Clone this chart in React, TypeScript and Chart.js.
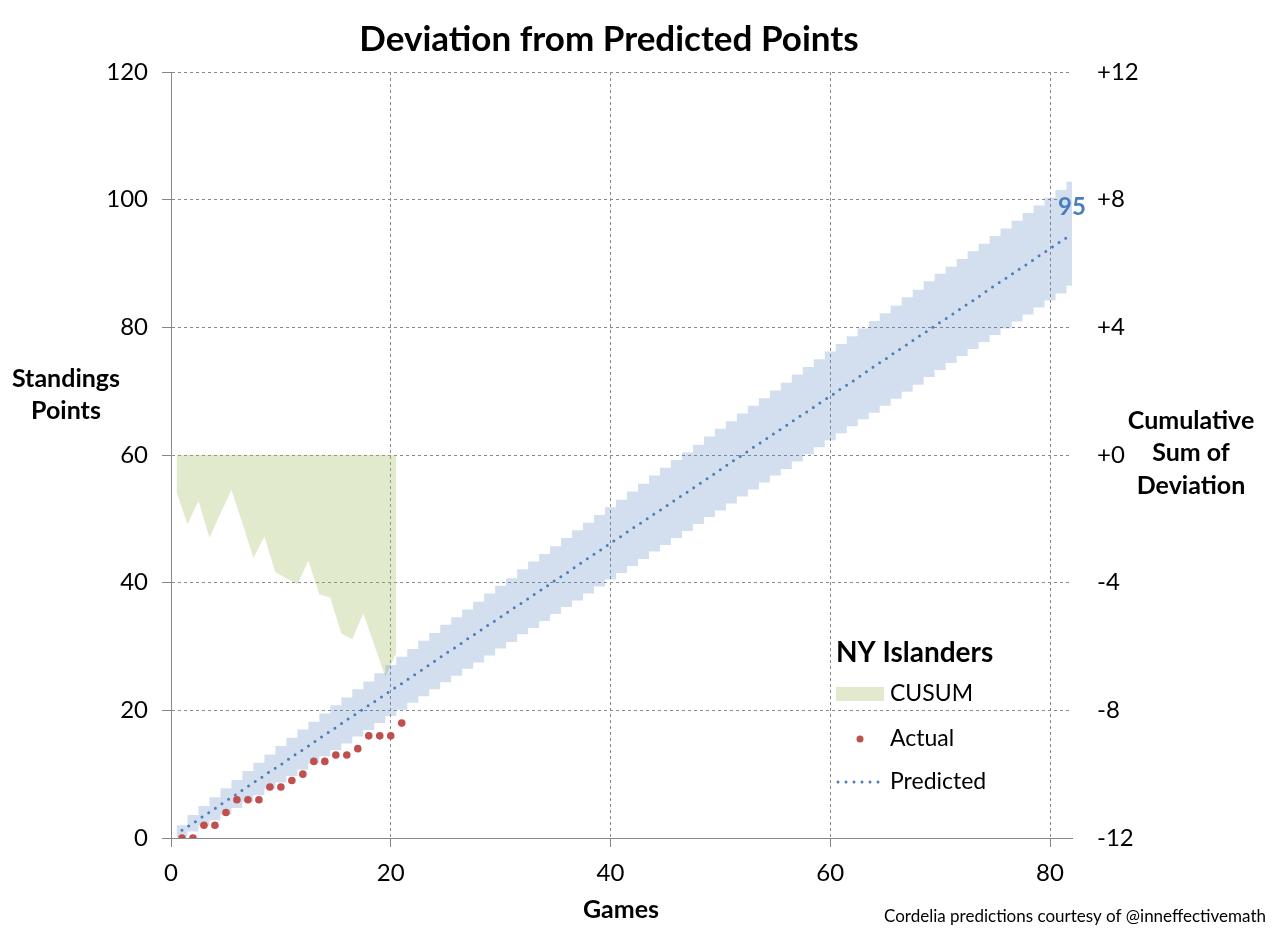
import React, { useEffect, useRef } from "react";
import { Chart, registerables } from "chart.js";

Chart.register(...registerables);

const FONT = "Lato, 'Open Sans', sans-serif";
const GRID = "#8a8a8a";
const AXIS = "#868686";
const BLUE = "#4a7ebb";
const RED = "#c0504d";
const BAND = "rgba(79,129,189,0.25)";
const GREEN = "rgba(155,187,89,0.3)";

const TITLE = "Deviation from Predicted Points";
const TEAM = "NY Islanders";
const LEGEND_LABELS = ["CUSUM", "Actual", "Predicted"];
const FINAL_LABEL = "95";
const CREDIT = "Cordelia predictions courtesy of @inneffectivemath";

const xTicks = [0, 20, 40, 60, 80];
const leftTicks = [0, 20, 40, 60, 80, 100, 120];
const rightTicks = [-12, -8, -4, 0, 4, 8, 12];

const games = Array.from({ length: 82 }, (_, i) => i + 1);

const predicted = [
  1.2, 2.3, 3.5, 4.6, 5.8, 6.9, 8.1, 9.2, 10.4, 11.5,
  12.7, 13.8, 15.0, 16.2, 17.3, 18.5, 19.6, 20.8, 21.9, 23.1,
  24.2, 25.4, 26.5, 27.7, 28.9, 30.0, 31.2, 32.3, 33.5, 34.6,
  35.8, 36.9, 38.1, 39.2, 40.4, 41.5, 42.7, 43.9, 45.0, 46.2,
  47.3, 48.5, 49.6, 50.8, 51.9, 53.1, 54.2, 55.4, 56.5, 57.7,
  58.9, 60.0, 61.2, 62.3, 63.5, 64.6, 65.8, 66.9, 68.1, 69.2,
  70.4, 71.5, 72.7, 73.9, 75.0, 76.2, 77.3, 78.5, 79.6, 80.8,
  81.9, 83.1, 84.2, 85.4, 86.6, 87.7, 88.9, 90.0, 91.2, 92.3,
  93.5, 94.6,
];

const bandLower = [
  0.2, 1.0, 1.9, 2.8, 3.7, 4.7, 5.7, 6.7, 7.7, 8.7,
  9.7, 10.7, 11.7, 12.8, 13.8, 14.8, 15.9, 16.9, 18.0, 19.1,
  20.1, 21.2, 22.2, 23.3, 24.4, 25.4, 26.5, 27.5, 28.6, 29.7,
  30.7, 31.9, 32.9, 34.0, 35.1, 36.2, 37.2, 38.3, 39.4, 40.5,
  41.5, 42.6, 43.7, 44.9, 45.9, 47.0, 48.1, 49.2, 50.3, 51.3,
  52.4, 53.5, 54.6, 55.7, 56.8, 57.8, 59.0, 60.1, 61.2, 62.3,
  63.4, 64.5, 65.6, 66.6, 67.7, 68.8, 69.9, 71.0, 72.2, 73.3,
  74.4, 75.5, 76.6, 77.7, 78.8, 79.8, 80.9, 82.0, 83.1, 84.2,
  85.3, 86.5,
];

const bandUpper = [
  2.0, 3.6, 5.0, 6.4, 7.8, 9.1, 10.5, 11.8, 13.1, 14.4,
  15.7, 17.0, 18.2, 19.5, 20.8, 22.0, 23.3, 24.5, 25.8, 27.1,
  28.4, 29.6, 30.9, 32.1, 33.4, 34.6, 35.8, 37.0, 38.3, 39.5,
  40.7, 42.1, 43.3, 44.5, 45.7, 47.0, 48.2, 49.4, 50.6, 51.8,
  53.0, 54.3, 55.5, 56.8, 58.0, 59.2, 60.4, 61.6, 62.9, 64.1,
  65.3, 66.5, 67.7, 68.9, 70.1, 71.3, 72.6, 73.8, 75.0, 76.2,
  77.4, 78.6, 79.8, 81.0, 82.2, 83.4, 84.7, 85.9, 87.2, 88.4,
  89.5, 90.7, 91.9, 93.1, 94.3, 95.5, 96.7, 97.9, 99.1, 100.3,
  101.5, 102.8,
];

const playedGames = Array.from({ length: 21 }, (_, i) => i + 1);
const actual = [0, 0, 2, 2, 4, 6, 6, 6, 8, 8, 9, 10, 12, 12, 13, 13, 14, 16, 16, 16, 18];
const cusum = [
  -1.15, -2.17, -1.44, -2.59, -1.83, -1.1, -2.14, -3.22, -2.56, -3.67,
  -3.86, -4.05, -3.31, -4.36, -4.47, -5.59, -5.77, -4.96, -5.95, -6.95, -6.21,
];

function stepPoints(vals: number[]) {
  const pts = games.map((g, i) => ({ x: g - 0.5, y: vals[i] }));
  pts.push({ x: games[games.length - 1] + 0.5, y: vals[vals.length - 1] });
  return pts;
}

const textPlugin = {
  id: "texts",
  afterDraw(chart: any) {
    const { ctx, chartArea, scales } = chart;
    ctx.save();
    ctx.fillStyle = "#000";
    ctx.textBaseline = "middle";
    ctx.textAlign = "center";
    // title
    ctx.font = `bold 35px ${FONT}`;
    ctx.fillText(TITLE, 609, 40);
    // left axis title
    ctx.font = `bold 25px ${FONT}`;
    ctx.fillText("Standings", 66, 379);
    ctx.fillText("Points", 66, 411);
    // right axis title
    ctx.fillText("Cumulative", 1191, 421);
    ctx.fillText("Sum of", 1191, 453);
    ctx.fillText("Deviation", 1191, 486);
    // x axis title
    ctx.fillText("Games", 621, 910);
    // credit
    ctx.font = `17px ${FONT}`;
    ctx.textAlign = "right";
    ctx.fillText(CREDIT, 1266, 917);
    // final label
    const x = scales.x;
    const y = scales.y;
    const last = games.length - 1;
    ctx.font = `bold 24px ${FONT}`;
    ctx.textAlign = "center";
    ctx.fillStyle = BLUE;
    ctx.fillText(FINAL_LABEL, x.getPixelForValue(games[last]), y.getPixelForValue(bandUpper[last]) + 25);
    // legend
    const lx = 836;
    ctx.textAlign = "left";
    ctx.fillStyle = "#000";
    ctx.font = `bold 28px ${FONT}`;
    ctx.fillText(TEAM, lx, 653);
    ctx.font = `23px ${FONT}`;
    const rows = [694, 739, 782];
    LEGEND_LABELS.forEach((t, i) => ctx.fillText(t, 890, rows[i]));
    ctx.fillStyle = GREEN;
    ctx.fillRect(lx, rows[0] - 7, 48, 14);
    ctx.fillStyle = RED;
    ctx.beginPath();
    ctx.arc(860, rows[1], 3.5, 0, Math.PI * 2);
    ctx.fill();
    ctx.strokeStyle = BLUE;
    ctx.lineWidth = 3;
    ctx.lineCap = "round";
    ctx.setLineDash([0, 8]);
    ctx.beginPath();
    ctx.moveTo(lx + 2, rows[2]);
    ctx.lineTo(lx + 44, rows[2]);
    ctx.stroke();
    ctx.restore();
  },
};

export default function App() {
  const ref = useRef<HTMLCanvasElement>(null);
  useEffect(() => {
    document.body.style.margin = "0";
    const canvas = ref.current!;
    const tickFont = { family: FONT, size: 24 };
    const chart = new Chart(canvas, {
      type: "line",
      data: {
        datasets: [
          {
            type: "scatter",
            label: "Actual",
            data: playedGames.map((g, i) => ({ x: g, y: actual[i] })),
            backgroundColor: RED,
            borderColor: RED,
            pointRadius: 3.8,
            pointBorderWidth: 0,
            yAxisID: "y",
          } as any,
          {
            label: "Predicted",
            data: games.map((g, i) => ({ x: g, y: predicted[i] })),
            borderColor: BLUE,
            borderWidth: 3,
            borderDash: [0, 8],
            borderCapStyle: "round",
            pointRadius: 0,
            fill: false,
            yAxisID: "y",
          },
          {
            label: "Upper",
            data: stepPoints(bandUpper),
            stepped: "before",
            borderColor: "rgba(0,0,0,0)",
            borderWidth: 0,
            backgroundColor: BAND,
            pointRadius: 0,
            fill: "+1",
            yAxisID: "y",
          },
          {
            label: "Lower",
            data: stepPoints(bandLower),
            stepped: "before",
            borderColor: "rgba(0,0,0,0)",
            borderWidth: 0,
            pointRadius: 0,
            fill: false,
            yAxisID: "y",
          },
          {
            label: "CUSUM",
            data: playedGames.map((g, i) => ({ x: g - 0.5, y: cusum[i] })),
            borderColor: "rgba(0,0,0,0)",
            borderWidth: 0,
            backgroundColor: GREEN,
            pointRadius: 0,
            fill: "origin",
            yAxisID: "y1",
          },
        ],
      },
      options: {
        animation: false,
        responsive: true,
        maintainAspectRatio: false,
        layout: { padding: { top: 72, left: 0, right: 0, bottom: 0 } },
        plugins: {
          legend: { display: false },
          tooltip: { enabled: false },
          title: { display: false },
        },
        scales: {
          x: {
            type: "linear",
            min: 0,
            max: 82,
            afterBuildTicks: (s: any) => {
              s.ticks = xTicks.map((v) => ({ value: v }));
            },
            ticks: { padding: 12, color: "#000", font: tickFont, includeBounds: false },
            grid: { color: GRID, tickLength: 9, tickColor: AXIS },
            border: { color: AXIS, dash: [3, 3] },
            afterFit: (s: any) => {
              s.height = 99;
            },
          },
          y: {
            position: "left",
            min: 0,
            max: 120,
            afterBuildTicks: (s: any) => {
              s.ticks = leftTicks.map((v) => ({ value: v }));
            },
            ticks: { padding: 14, color: "#000", font: tickFont },
            grid: { color: GRID, tickLength: 9, tickColor: AXIS },
            border: { color: AXIS, dash: [3, 3] },
            afterFit: (s: any) => {
              s.width = 171;
            },
          },
          y1: {
            position: "right",
            min: -12,
            max: 12,
            afterBuildTicks: (s: any) => {
              s.ticks = rightTicks.map((v) => ({ value: v }));
            },
            ticks: {
              padding: 25,
              color: "#000",
              font: tickFont,
              callback: (v: any) => (Number(v) >= 0 ? "+" : "") + v,
            },
            grid: { display: false, drawTicks: false },
            border: { display: false },
            afterFit: (s: any) => {
              s.width = 206;
            },
          },
        },
      } as any,
      plugins: [textPlugin],
    });
    return () => chart.destroy();
  }, []);
  return (
    <div style={{ width: 1278, height: 937, position: "relative" }}>
      <canvas ref={ref} />
    </div>
  );
}
